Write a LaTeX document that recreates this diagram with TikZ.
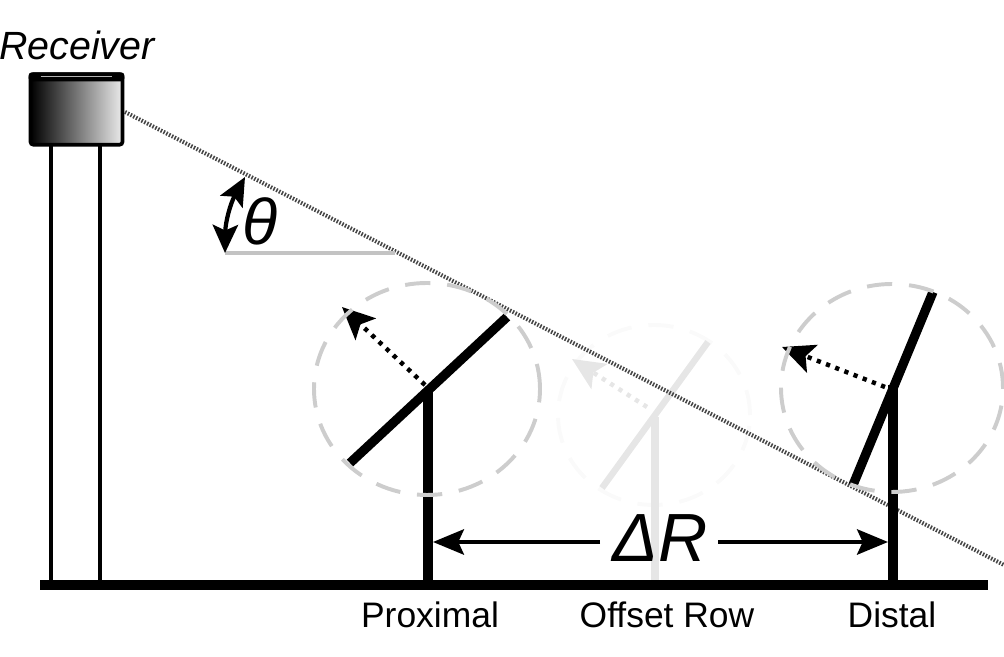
\documentclass[tikz,border=0pt]{standalone}
\usepackage{fontspec}
\setmainfont{Liberation Sans}
\definecolor{raygray}{RGB}{70, 70, 70}
\definecolor{ringgray}{RGB}{205, 205, 205}
\definecolor{levelgray}{RGB}{195, 195, 195}
\definecolor{fadegray}{RGB}{230, 230, 230}
\definecolor{ringfade}{RGB}{250, 250, 250}
\usetikzlibrary{arrows.meta, calc}

\begin{document}
\begin{tikzpicture}[
  label/.style={font=\fontsize{25.2}{28}\selectfont, anchor=base, inner sep=0pt},
  bigitalic/.style={font=\fontsize{#1}{#1}\selectfont\itshape, anchor=base, inner sep=0pt},
  ground/.style={line width=7pt},
  post/.style={draw=#1, line width=7pt},
  panel/.style={draw=#1, line width=6.6pt},
  ring/.style={draw=#1, line width=2.8pt, dash pattern=on 18pt off 12pt},
  normal/.style={draw=#1, line width=3.2pt, dash pattern=on 3pt off 4pt, -{Stealth[length=23pt, width=21pt, inset=5pt]}},
  span/.style={line width=2.8pt, -{Stealth[length=22pt, width=18pt, inset=4pt]}},
]
  \useasboundingbox (0, 0) rectangle (25.1, 16.425);

  \coordinate (gndl) at (1.0, 1.8);
  \coordinate (gndr) at (24.7, 1.8);
  \coordinate (legl) at (1.275, 12.8);
  \coordinate (legr) at (2.5, 12.8);
  \draw[line width=2.4pt] (legl) -- (legl |- gndl);
  \draw[line width=2.4pt] (legr) -- (legr |- gndl);

  \node[left color=black, right color=white!92!black, draw=black, line width=2.6pt, rounded corners=2pt, minimum width=2.3cm, minimum height=1.76cm, inner sep=0pt] (rcv) at (1.9125, 13.6875) {};
  \fill[black, rounded corners=2pt] (rcv.north west) rectangle ($(rcv.north east)+(0, -0.22)$);
  \draw[white!70!black, line width=0.7pt] ($(rcv.north west)+(0.3, -0.11)$) -- ($(rcv.north east)+(-0.3, -0.11)$);

  \coordinate (rayin) at (3.125, 13.625);
  \coordinate (rayout) at (25.1, 2.3);
  \coordinate (levela) at (5.625, 10.1);
  \coordinate (levelb) at (9.875, 10.1);
  \coordinate (tiptop) at (6.125, 12.0);

  \coordinate (midbase) at (16.375, 1.925);
  \coordinate (midtop) at (16.375, 6.0);
  \coordinate (midlow) at (15.05, 4.225);
  \coordinate (midhigh) at (17.7, 7.875);
  \coordinate (midfoot) at (16.175, 6.25);
  \coordinate (midhead) at (14.3, 7.45);
  \draw[ring=ringfade] (16.35, 6.05) ellipse (2.4 and 2.25);
  \draw[post=fadegray, line width=5.5pt] (midbase) -- (midtop);
  \draw[panel=fadegray, line width=4.6pt] (midlow) -- (midhigh);
  \draw[normal=fadegray] (midfoot) -- (midhead);

  \draw[draw=raygray, line width=2.9pt, dash pattern=on 1.1pt off 1.1pt] (rayin) -- (rayout);
  \draw[draw=levelgray, line width=2.4pt] (levela) -- (levelb);
  \draw[{Stealth[length=20pt, width=18pt, inset=4pt]}-{Stealth[length=20pt, width=18pt, inset=4pt]}, line width=3pt] (levela) to[bend left=14] (tiptop);

  \coordinate (proxbase) at (10.7, 1.8);
  \coordinate (proxtop) at (10.7, 6.675);
  \coordinate (proxlow) at (8.75, 4.85);
  \coordinate (proxhigh) at (12.675, 8.5);
  \coordinate (proxfoot) at (10.625, 6.8);
  \coordinate (proxhead) at (8.55, 8.75);
  \draw[post=black] (proxbase) -- (proxtop);
  \draw[panel=black] (proxlow) -- (proxhigh);
  \draw[normal=black] (proxfoot) -- (proxhead);
  \draw[ring=ringgray] (10.675, 6.7) ellipse (2.825 and 2.65);

  \coordinate (distbase) at (22.325, 1.8);
  \coordinate (disttop) at (22.325, 6.8);
  \coordinate (distlow) at (21.325, 4.3);
  \coordinate (disthigh) at (23.325, 9.125);
  \coordinate (distfoot) at (22.125, 6.75);
  \coordinate (disthead) at (19.55, 7.75);
  \draw[post=black] (distbase) -- (disttop);
  \draw[panel=black] (distlow) -- (disthigh);
  \draw[normal=black] (distfoot) -- (disthead);
  \draw[ring=ringgray] (22.3, 6.725) ellipse (2.775 and 2.6);

  \draw[ground] (gndl) -- (gndr);

  \coordinate (spanla) at (15.0, 2.875);
  \coordinate (spanlb) at (10.825, 2.875);
  \coordinate (spanra) at (17.95, 2.875);
  \coordinate (spanrb) at (22.2, 2.875);
  \draw[span] (spanla) -- (spanlb);
  \draw[span] (spanra) -- (spanrb);

  \node[bigitalic=28] (rcvtext) at (1.925, 14.925) {Receiver};
  \node[bigitalic=46] (theta) at (6.5, 10.3) {θ};
  \node[bigitalic=48.5] (delta) at (16.5, 2.375) {ΔR};
  \node[label] (prox) at (10.75, 0.725) {Proximal};
  \node[label] (offs) at (16.675, 0.725) {Offset Row};
  \node[label] (dist) at (22.3, 0.725) {Distal};
\end{tikzpicture}
\end{document}
